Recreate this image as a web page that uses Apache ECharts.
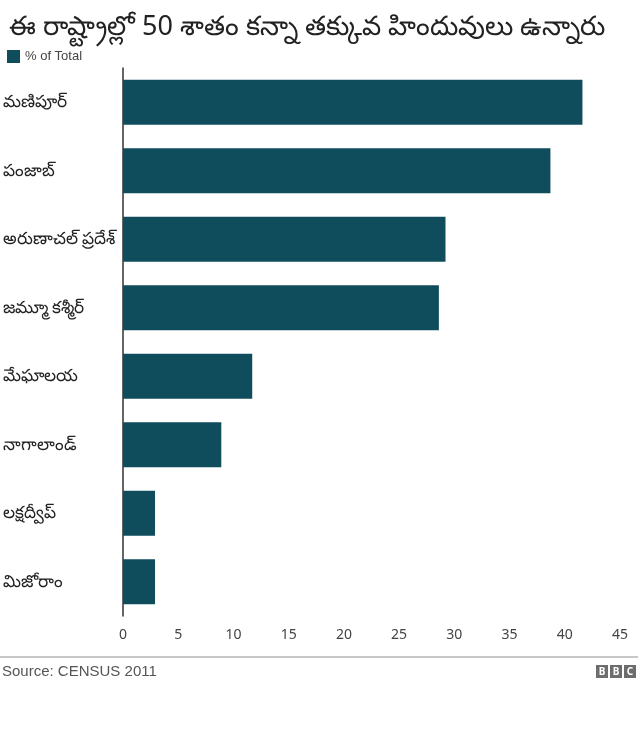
<!DOCTYPE html>
<html><head><meta charset="utf-8">
<script src="https://cdn.jsdelivr.net/npm/echarts@6/dist/echarts.min.js"></script>
<style>html,body{margin:0;padding:0;background:#fff}#c{width:640px;height:755px}</style>
</head><body><div id="c"></div>
<script>
var titleText = 'ఈ రాష్ట్రాల్లో 50 శాతం కన్నా తక్కువ హిందువులు ఉన్నారు';
var legendName = '% of Total';
var categories = ['మణిపూర్','పంజాబ్','అరుణాచల్ ప్రదేశ్','జమ్మూ కశ్మీర్','మేఘాలయ','నాగాలాండ్','లక్షద్వీప్','మిజోరాం'];
var values = [41.6, 38.7, 29.2, 28.6, 11.7, 8.9, 2.9, 2.9];
var xTicks = [0,5,10,15,20,25,30,35,40,45];
var sourceText = 'Source: CENSUS 2011';

var font = '"Noto Sans", "Liberation Sans", Arial, sans-serif';
var chart = echarts.init(document.getElementById('c'), null, {renderer:'canvas'});
chart.setOption({
  animation:false,
  backgroundColor:'#fff',
  title:{text:titleText,left:4,top:9,textStyle:{fontFamily:font,fontSize:27,fontWeight:'normal',color:'#222'}},
  legend:{show:true,left:2,top:45,itemWidth:13,itemHeight:13,itemGap:6,icon:'rect',
    textStyle:{fontFamily:'"Liberation Sans", Arial, sans-serif',fontSize:13,color:'#444'},data:[legendName]},
  grid:{left:123,right:20,top:68,bottom:139,containLabel:false},
  xAxis:{type:'value',min:xTicks[0],max:xTicks[xTicks.length-1],interval:5,
    axisLine:{show:false},axisTick:{show:false},splitLine:{show:false},
    axisLabel:{fontFamily:font,fontSize:14,color:'#444',margin:12}},
  yAxis:{type:'category',data:categories,inverse:true,
    axisLine:{show:true,lineStyle:{color:'#333',width:1.5}},axisTick:{show:false},
    axisLabel:{fontFamily:font,fontSize:17,color:'#222',align:'left',margin:120,
      rich:{}},
  },
  series:[{name:legendName,type:'bar',data:values,barCategoryGap:'34%',
    itemStyle:{color:'#0f4d5c'}}],
  graphic:[
    {type:'line',shape:{x1:0,y1:657,x2:638,y2:657},style:{stroke:'#c8c8c8',lineWidth:2}},
    {type:'text',left:2,top:664,style:{text:sourceText,fontFamily:'"Liberation Sans", Arial, sans-serif',fontSize:15,fill:'#555'}},
    {type:'group',left:596,top:665,children:[
      {type:'rect',shape:{x:0,y:0,width:12,height:13},style:{fill:'#6d6d6d'}},
      {type:'rect',shape:{x:14,y:0,width:12,height:13},style:{fill:'#6d6d6d'}},
      {type:'rect',shape:{x:28,y:0,width:12,height:13},style:{fill:'#6d6d6d'}},
      {type:'text',x:6,y:7,style:{text:'B',fontFamily:font,fontSize:10,fontWeight:'bold',fill:'#fff',align:'center',verticalAlign:'middle'}},
      {type:'text',x:20,y:7,style:{text:'B',fontFamily:font,fontSize:10,fontWeight:'bold',fill:'#fff',align:'center',verticalAlign:'middle'}},
      {type:'text',x:34,y:7,style:{text:'C',fontFamily:font,fontSize:10,fontWeight:'bold',fill:'#fff',align:'center',verticalAlign:'middle'}}
    ]}
  ]
});
</script></body></html>
